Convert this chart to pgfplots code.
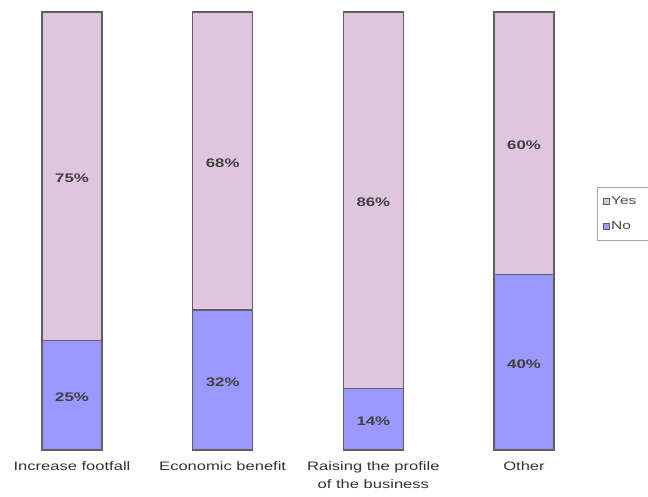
\documentclass[border=0pt]{standalone}
\usepackage{pgfplots}
\usepackage{pgfplotstable}
\pgfplotsset{compat=1.18}
\usepackage{fontspec}
\setmainfont{Liberation Sans}[FakeStretch=1.35]
\definecolor{yescol}{RGB}{222,198,222}
\definecolor{nocol}{RGB}{153,153,255}
\definecolor{edgecol}{RGB}{95,95,100}
\pgfplotstableread{
x no yes
0 25 75
1 32 68
2 14 86
3 40 60
}\datatable
\begin{document}
\begin{tikzpicture}
\useasboundingbox (0,0) rectangle (648bp,497bp);
\begin{axis}[
  at={(72bp,47bp)}, anchor=origin,
  x=150.67bp, y=4.38bp,
  xmin=-0.45, xmax=3.451, ymin=0, ymax=100,
  ybar stacked, bar width=60bp,
  axis line style={draw=none}, tick style={draw=none},
  ytick=\empty,
  xtick={0,1,2,3},
  xticklabels={Increase footfall,Economic benefit,Raising the profile\\of the business,Other},
  xticklabel style={align=center, font=\fontsize{12.3}{18}\selectfont, text=black!80, yshift=-8.5bp},
  clip=false,
  legend style={at={(axis cs:3.484,60)}, anchor=north west, draw=black!35, font=\fontsize{11.5}{13}\selectfont, text=black!70, row sep=12bp, inner xsep=6bp, inner ysep=7bp, cells={anchor=west}},
  legend cell align=left,
  legend image code/.code={\draw[#1, line width=0.6pt] (0bp,-2.8bp) rectangle (5.5bp,2.8bp);},
  reverse legend,
]
\addplot[fill=nocol, draw=edgecol, line width=1.4pt] table[x=x,y=no] {\datatable};
\addlegendentry{\makebox[40bp][l]{No}}
\addplot[fill=yescol, draw=edgecol, line width=1.4pt] table[x=x,y=yes] {\datatable};
\addlegendentry{\makebox[40bp][l]{Yes}}
\coordinate (n0) at (axis cs:0,12.5);
\coordinate (n1) at (axis cs:1,16);
\coordinate (n2) at (axis cs:2,7);
\coordinate (n3) at (axis cs:3,20);
\coordinate (y0) at (axis cs:0,62.5);
\coordinate (y1) at (axis cs:1,66);
\coordinate (y2) at (axis cs:2,57);
\coordinate (y3) at (axis cs:3,70);
\end{axis}
\begin{scope}[every node/.style={font=\fontsize{12.5}{14}\selectfont\bfseries, text=black!75, yshift=-2bp}]
\node at (n0) {25\%};
\node at (n1) {32\%};
\node at (n2) {14\%};
\node at (n3) {40\%};
\node at (y0) {75\%};
\node at (y1) {68\%};
\node at (y2) {86\%};
\node at (y3) {60\%};
\end{scope}
\end{tikzpicture}
\end{document}
